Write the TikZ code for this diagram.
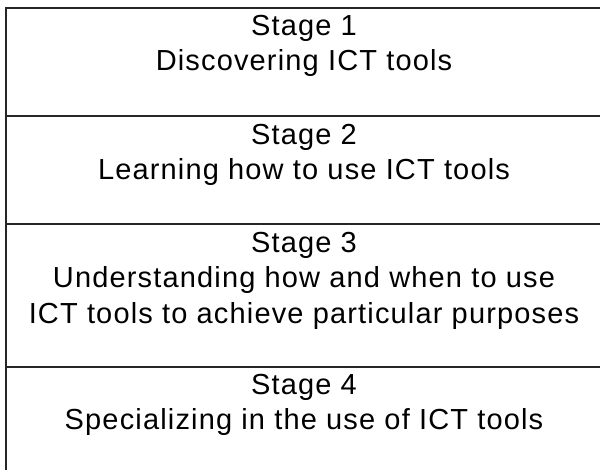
\documentclass[tikz,border=0pt]{standalone}
\usepackage{fontspec}
\setmainfont{Liberation Sans}[LetterSpace=4]
\begin{document}
\begin{tikzpicture}[x=1pt,y=-1pt,
  rule/.style={line width=1.6pt,draw=black!85},
  stagetext/.style={anchor=north,align=center,inner sep=0pt,
    font=\fontsize{29}{35.5}\selectfont}]
\useasboundingbox (0,0) rectangle (600,470);
\draw[rule] (6,470) -- (6,8) -- (602,8);
\draw[rule] (6,116) -- (602,116);
\draw[rule] (6,224) -- (602,224);
\draw[rule] (6,367) -- (602,367);
\node[stagetext] (stage1) at (304,15) {Stage 1\\Discovering ICT tools};
\node[stagetext] (stage2) at (304,124) {Stage 2\\Learning how to use ICT tools};
\node[stagetext] (stage3) at (304,232) {Stage 3\\Understanding how and when to use\\ICT tools to achieve particular purposes};
\node[stagetext] (stage4) at (304,374) {Stage 4\\Specializing in the use of ICT tools};
\end{tikzpicture}
\end{document}
